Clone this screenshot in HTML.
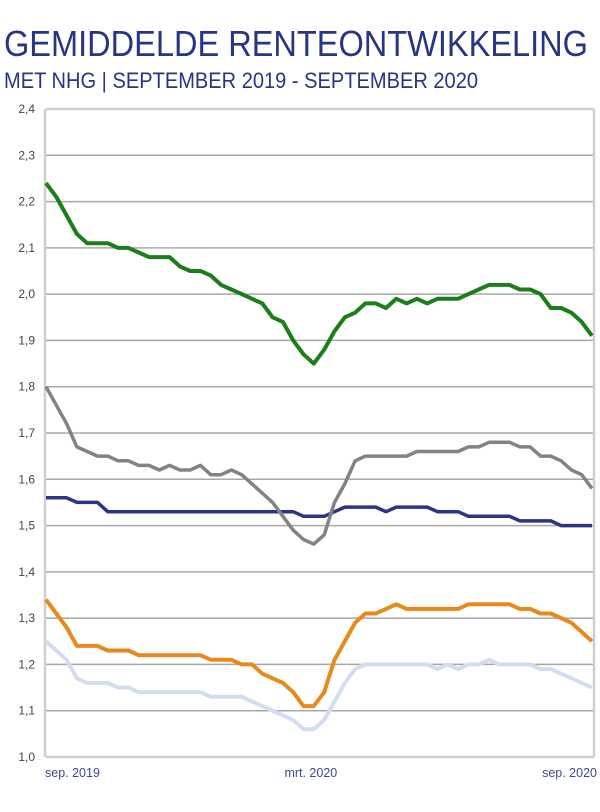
<!DOCTYPE html>
<html><head><meta charset="utf-8"><style>
html,body{margin:0;padding:0;background:#fff;width:600px;height:812px;overflow:hidden}
svg{display:block}
</style></head><body>
<svg id="chart" width="600" height="812" viewBox="0 0 600 812" xmlns="http://www.w3.org/2000/svg" font-family="'Liberation Sans', sans-serif">
<text x="4" y="56" font-size="36" fill="#273582" textLength="584" lengthAdjust="spacingAndGlyphs">GEMIDDELDE RENTEONTWIKKELING</text>
<text x="4" y="88" font-size="22" fill="#273582" textLength="474" lengthAdjust="spacingAndGlyphs">MET NHG | SEPTEMBER 2019 - SEPTEMBER 2020</text>
<g id="grid"></g>
<g id="yaxis"></g>
<g id="xaxis"></g>
<g id="series"></g>
</svg>
<script>
const yTicks = [1.0,1.1,1.2,1.3,1.4,1.5,1.6,1.7,1.8,1.9,2.0,2.1,2.2,2.3,2.4];
const xLabels = ["sep. 2019","mrt. 2020","sep. 2020"];
const xLabelIdx = [0,26,53];
const green = [2.24,2.21,2.17,2.13,2.11,2.11,2.11,2.10,2.10,2.09,2.08,2.08,2.08,2.06,2.05,2.05,2.04,2.02,2.01,2.00,1.99,1.98,1.95,1.94,1.90,1.87,1.85,1.88,1.92,1.95,1.96,1.98,1.98,1.97,1.99,1.98,1.99,1.98,1.99,1.99,1.99,2.00,2.01,2.02,2.02,2.02,2.01,2.01,2.00,1.97,1.97,1.96,1.94,1.91];
const gray = [1.80,1.76,1.72,1.67,1.66,1.65,1.65,1.64,1.64,1.63,1.63,1.62,1.63,1.62,1.62,1.63,1.61,1.61,1.62,1.61,1.59,1.57,1.55,1.52,1.49,1.47,1.46,1.48,1.55,1.59,1.64,1.65,1.65,1.65,1.65,1.65,1.66,1.66,1.66,1.66,1.66,1.67,1.67,1.68,1.68,1.68,1.67,1.67,1.65,1.65,1.64,1.62,1.61,1.58];
const navy = [1.56,1.56,1.56,1.55,1.55,1.55,1.53,1.53,1.53,1.53,1.53,1.53,1.53,1.53,1.53,1.53,1.53,1.53,1.53,1.53,1.53,1.53,1.53,1.53,1.53,1.52,1.52,1.52,1.53,1.54,1.54,1.54,1.54,1.53,1.54,1.54,1.54,1.54,1.53,1.53,1.53,1.52,1.52,1.52,1.52,1.52,1.51,1.51,1.51,1.51,1.50,1.50,1.50,1.50];
const orange = [1.34,1.31,1.28,1.24,1.24,1.24,1.23,1.23,1.23,1.22,1.22,1.22,1.22,1.22,1.22,1.22,1.21,1.21,1.21,1.20,1.20,1.18,1.17,1.16,1.14,1.11,1.11,1.14,1.21,1.25,1.29,1.31,1.31,1.32,1.33,1.32,1.32,1.32,1.32,1.32,1.32,1.33,1.33,1.33,1.33,1.33,1.32,1.32,1.31,1.31,1.30,1.29,1.27,1.25];
const lightblue = [1.25,1.23,1.21,1.17,1.16,1.16,1.16,1.15,1.15,1.14,1.14,1.14,1.14,1.14,1.14,1.14,1.13,1.13,1.13,1.13,1.12,1.11,1.10,1.09,1.08,1.06,1.06,1.08,1.12,1.16,1.19,1.20,1.20,1.20,1.20,1.20,1.20,1.20,1.19,1.20,1.19,1.20,1.20,1.21,1.20,1.20,1.20,1.20,1.19,1.19,1.18,1.17,1.16,1.15];

const NS = "http://www.w3.org/2000/svg";
const X0 = 46, X1 = 592, Y0 = 757, Y1 = 109, VMIN = 1.0, VMAX = 2.4;
const nPts = green.length;
function xs(i){ return X0 + i * (X1 - X0) / (nPts - 1); }
function ys(v){ return Y0 - (v - VMIN) / (VMAX - VMIN) * (Y0 - Y1); }

const grid = document.getElementById('grid');
const yaxis = document.getElementById('yaxis');
yTicks.forEach(function(t){
  const y = ys(t);
  const ln = document.createElementNS(NS, 'line');
  
  
  ln.setAttribute('x1', X0); ln.setAttribute('x2', X1 + 2);
  ln.setAttribute('y1', y); ln.setAttribute('y2', y);
  const edge = (t === VMIN || t === VMAX);
  ln.setAttribute('stroke', edge ? '#cfcfcf' : '#a8a8a8');
  ln.setAttribute('stroke-width', edge ? '2.5' : '1.5');
  grid.appendChild(ln);
  const tx = document.createElementNS(NS, 'text');
  
  
  tx.setAttribute('x', 35); tx.setAttribute('y', y + 4);
  tx.setAttribute('text-anchor', 'end');
  tx.setAttribute('font-size', '12');
  tx.setAttribute('fill', '#444');
  tx.textContent = t.toFixed(1).replace('.', ',');
  yaxis.appendChild(tx);
});
['L','R'].forEach(function(side){
  const ln = document.createElementNS(NS, 'line');
  
  
  const x = side === 'L' ? X0 - 1 : X1 + 2;
  ln.setAttribute('x1', x); ln.setAttribute('x2', x);
  ln.setAttribute('y1', Y1); ln.setAttribute('y2', Y0);
  ln.setAttribute('stroke', '#cfcfcf');
  ln.setAttribute('stroke-width', '2.5');
  grid.appendChild(ln);
});

const xaxis = document.getElementById('xaxis');
xLabels.forEach(function(lab, k){
  const tx = document.createElementNS(NS, 'text');
  
  
  const i = xLabelIdx[k];
  tx.setAttribute('x', k === 0 ? xs(i) - 1 : (k === xLabels.length - 1 ? xs(i) + 5 : xs(i) - 3));
  tx.setAttribute('y', 777);
  tx.setAttribute('text-anchor', k === 0 ? 'start' : (k === xLabels.length - 1 ? 'end' : 'middle'));
  tx.setAttribute('font-size', '12.5');
  tx.setAttribute('fill', '#3d4a86');
  tx.textContent = lab;
  xaxis.appendChild(tx);
});

const seriesG = document.getElementById('series');
function drawLine(arr, color, w, name){
  const p = document.createElementNS(NS, 'polyline');
  
  
  p.setAttribute('points', arr.map(function(v, i){ return xs(i).toFixed(1) + ',' + ys(v).toFixed(1); }).join(' '));
  p.setAttribute('fill', 'none');
  p.setAttribute('stroke', color);
  p.setAttribute('stroke-width', w);
  p.setAttribute('stroke-linejoin', 'round');
  seriesG.appendChild(p);
}
drawLine(lightblue, '#d3dcf0', 4, 'line-lightblue');
drawLine(orange, '#e8891c', 4, 'line-orange');
drawLine(navy, '#2b3586', 3.5, 'line-navy');
drawLine(gray, '#838383', 3.5, 'line-gray');
drawLine(green, '#1b7e1b', 4, 'line-green');
</script>
</body></html>
